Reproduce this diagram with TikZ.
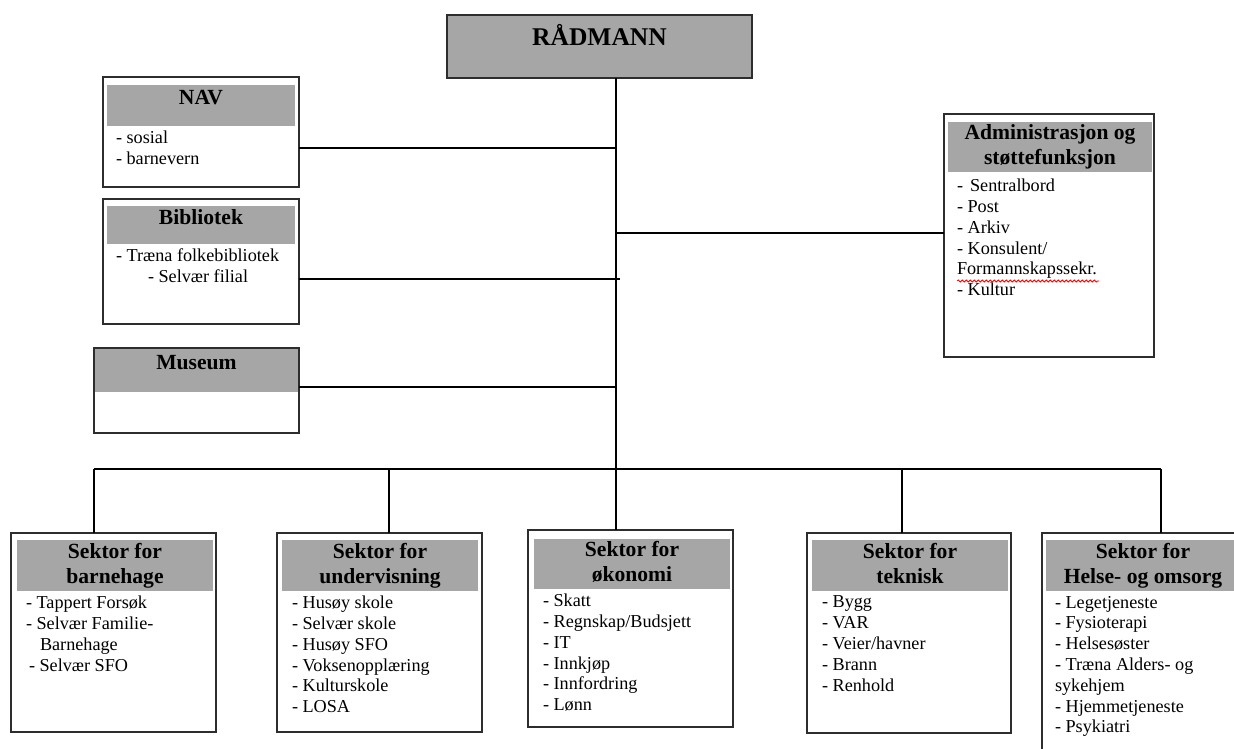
\documentclass[tikz,border=0pt]{standalone}
\usepackage{fontspec}
\setmainfont{Liberation Serif}
\usetikzlibrary{positioning,decorations.pathmorphing}
\definecolor{headgray}{RGB}{166,166,166}
\definecolor{framegray}{RGB}{45,45,45}

\begin{document}
\begin{tikzpicture}[x=1pt, y=-1pt,
    unit/.style={rectangle, draw=framegray, line width=1.3pt, fill=white, anchor=north west, inner sep=0pt, outer sep=0pt},
    secbox/.style={unit, minimum width=205pt, minimum height=199pt},
    headbar/.style={rectangle, fill=headgray, inner sep=0pt, outer sep=0pt, align=center, font=\fontsize{21.6}{25}\selectfont\bfseries},
    onehead/.style={headbar, text height=14pt, text depth=15pt},
    sechead/.style={headbar, minimum width=196pt, minimum height=51pt},
    items/.style={inner sep=0pt, outer sep=0pt, align=left, font=\fontsize{18.2}{20.8}\selectfont},
    link/.style={draw=black, line width=1.1pt}
]

% === LAYOUT ===
% 1pt = 1 pixel of the 1234x749 page, y grows downwards
% Top: RAADMANN, trunk at x=616
% Staff units left (NAV, Bibliotek, Museum), administration right
% Bus at y=469, five sectors below
\useasboundingbox (0,0) rectangle (1234,749);
\fill[white] (0,0) rectangle (1234,749);
\clip (0,0) rectangle (1234,749);

% Top box
\node[unit, fill=headgray, minimum width=305pt, minimum height=63pt, font=\fontsize{25.5}{28}\selectfont\bfseries, text height=14pt, text depth=16pt] (radmann) at (447,15) {RÅDMANN};

% Staff units on the left
\node[unit, minimum width=196pt, minimum height=110pt] (nav) at (103,77) {};
\node[onehead, minimum width=188pt, minimum height=41pt, below right=8pt and 4pt of nav.north west] (navh) {NAV};
\node[items, below right=5pt and 9pt of navh.south west] (navt) {- sosial\\- barnevern};

\node[unit, minimum width=196pt, minimum height=125pt] (bib) at (103,199) {};
\node[onehead, minimum width=188pt, minimum height=38pt, below right=7pt and 4pt of bib.north west] (bibh) {Bibliotek};
\node[items, below right=5pt and 9pt of bibh.south west] (bibt) {- Træna folkebibliotek\\\hspace*{32pt}- Selvær filial};

\node[unit, minimum width=205pt, minimum height=85pt] (mus) at (94,348) {};
\node[onehead, minimum width=205pt, minimum height=44pt, below right=0pt and 0pt of mus.north west] (mush) {Museum};
\draw[draw=framegray, line width=1.3pt] (mus.north west) rectangle (mus.south east);

% Administration on the right
\node[unit, minimum width=210pt, minimum height=243pt] (adm) at (944,114) {};
\node[headbar, minimum width=204pt, minimum height=50pt, below right=8pt and 4pt of adm.north west] (admh) {Administrasjon og\\støttefunksjon};
\node[items, below right=7pt and 9pt of admh.south west] (admt) {-\hspace{7pt}Sentralbord\\- Post\\- Arkiv\\- Konsulent/\\Formannskapssekr.\\- Kultur};
\draw[red, line width=0.8pt, decorate, decoration={snake, amplitude=1pt, segment length=4pt}] (957,281) -- (1099,281);

% Sectors
\node[secbox] (bhg) at (11,533) {};
\node[sechead, below right=7pt and 6pt of bhg.north west] (bhgh) {Sektor for\\barnehage};
\node[items, below right=5pt and 9pt of bhgh.south west] (bhgt) {- Tappert Forsøk\\- Selvær Familie-\\\hspace*{14pt}Barnehage\\\hspace*{3pt}- Selvær SFO};

\node[secbox] (und) at (277,533) {};
\node[sechead, below right=7pt and 5pt of und.north west] (undh) {Sektor for\\undervisning};
\node[items, below right=5pt and 10pt of undh.south west] (undt) {- Husøy skole\\- Selvær skole\\- Husøy SFO\\- Voksenopplæring\\- Kulturskole\\- LOSA};

\node[secbox, minimum height=197pt] (oko) at (528,530) {};
\node[sechead, minimum height=50pt, below right=9pt and 6pt of oko.north west] (okoh) {Sektor for\\økonomi\vphantom{g}};
\node[items, below right=5pt and 9pt of okoh.south west] (okot) {- Skatt\\- Regnskap/Budsjett\\- IT\\- Innkjøp\\- Innfordring\\- Lønn};

\node[secbox, minimum width=204pt, minimum height=200pt] (tek) at (807,533) {};
\node[sechead, below right=7pt and 5pt of tek.north west] (tekh) {Sektor for\\teknisk\vphantom{g}};
\node[items, below right=5pt and 10pt of tekh.south west] (tekt) {- Bygg\\- VAR\\- Veier/havner\\- Brann\\- Renhold};

\node[secbox, minimum width=202pt, minimum height=240pt] (hel) at (1042,533) {};
\node[sechead, minimum width=194pt, below right=7pt and 4pt of hel.north west] (helh) {Sektor for\\Helse- og omsorg};
\node[items, below right=5pt and 9pt of helh.south west] (helt) {- Legetjeneste\\- Fysioterapi\\- Helsesøster\\- Træna Alders- og\\sykehjem\\- Hjemmetjeneste\\- Psykiatri};

% Junctions on the trunk and the bus
\coordinate (jnav) at (616,148);
\coordinate (jadm) at (616,233);
\coordinate (jbib) at (620,279);
\coordinate (jmus) at (616,387);
\coordinate (jbus) at (616,469);
\coordinate (busL) at (94,469);
\coordinate (dund) at (389,469);
\coordinate (dtek) at (902,469);
\coordinate (busR) at (1161,469);

% Connectors
\draw[link] (jnav |- radmann.south) -- (jbus |- oko.north);
\draw[link] (jnav -| nav.east) -- (jnav);
\draw[link] (jbib -| bib.east) -- (jbib);
\draw[link] (jmus -| mus.east) -- (jmus);
\draw[link] (jadm) -- (jadm -| adm.west);
\draw[link] (busL) -- (busR);
\draw[link] (busL) -- (busL |- bhg.north);
\draw[link] (dund) -- (dund |- und.north);
\draw[link] (dtek) -- (dtek |- tek.north);
\draw[link] (busR) -- (busR |- hel.north);

\end{tikzpicture}
\end{document}
